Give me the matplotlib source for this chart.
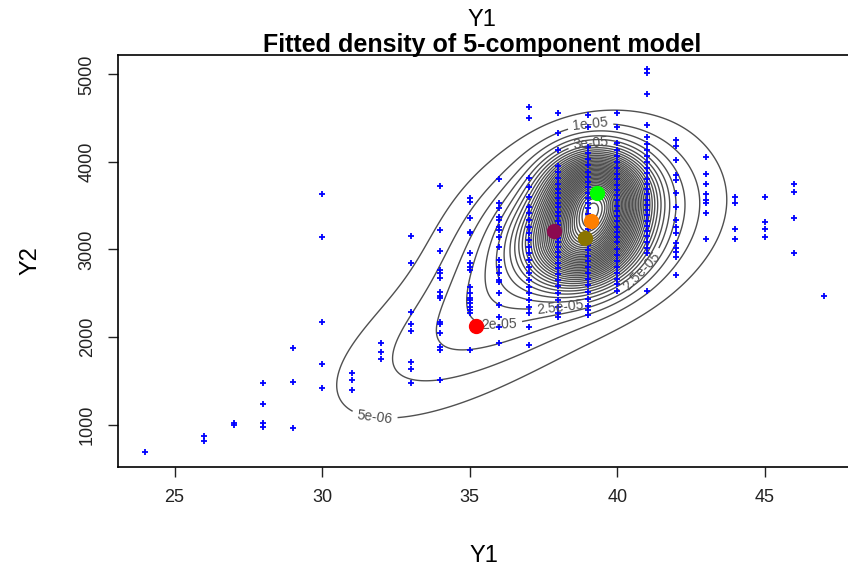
import numpy as np
import matplotlib
matplotlib.use("Agg")
import matplotlib.pyplot as plt

# observed points, grouped by Y1 value (Y1 is integer valued)
y1_vals = [24, 26, 27, 28, 29, 30, 31, 32, 33, 34, 35, 36, 37, 38, 39, 40,
           41, 42, 43, 44, 45, 46, 47]
y2_by_y1 = [
    [690],
    [870, 810],
    [1000, 1020],
    [1480, 1240, 1020, 977],
    [1869, 1491, 966],
    [3629, 3137, 2177, 1697, 1423],
    [1583, 1503, 1389],
    [1937, 1823, 1754],
    [3149, 2851, 2280, 2154, 2063, 1720, 1629, 1480],
    [3720, 3217, 2977, 2771, 2726, 2669, 2509, 2474, 2451, 2177, 2143, 2040,
     1880, 1846, 1514],
    [3583, 3537, 3354, 3194, 3183, 2954, 2851, 2794, 2760, 2566, 2497, 2451,
     2417, 2383, 2337, 2303, 2269, 1846],
    [3800, 3526, 3469, 3366, 3331, 3251, 3217, 3137, 3023, 2874, 2794, 2726,
     2646, 2623, 2497, 2360, 2223, 2109, 1937],
    [4623, 4497, 3811, 3709, 3594, 3480, 3411, 3331, 3251, 3183, 3103, 3023,
     2954, 2874, 2794, 2726, 2646, 2566, 2497, 2417, 2337, 2269, 2109, 1903],
    [4554, 4326, 4131, 3949, 3880, 3811, 3750, 3690, 3640, 3590, 3530, 3480,
     3430, 3380, 3330, 3280, 3230, 3180, 3130, 3080, 3030, 2970, 2910, 2850,
     2790, 2720, 2650, 2580, 2500, 2420, 2340, 2269, 2223],
    [4531, 4394, 4166, 4100, 4030, 3960, 3890, 3830, 3770, 3710, 3650, 3590,
     3530, 3470, 3410, 3350, 3290, 3230, 3170, 3110, 3050, 2990, 2930, 2870,
     2800, 2730, 2660, 2590, 2510, 2430, 2350, 2303, 2246],
    [4554, 4394, 4211, 4140, 4070, 4000, 3930, 3860, 3800, 3740, 3680, 3620,
     3560, 3500, 3440, 3380, 3320, 3260, 3200, 3140, 3080, 3010, 2940, 2870,
     2800, 2730, 2660, 2600, 2531],
    [5057, 5011, 4771, 4417, 4280, 4210, 4140, 4070, 4000, 3930, 3870, 3810,
     3750, 3690, 3630, 3570, 3510, 3450, 3390, 3330, 3270, 3210, 3150, 3090,
     3020, 2954, 2531],
    [4246, 4177, 4017, 3846, 3789, 3640, 3480, 3331, 3251, 3183, 3069, 3011,
     2966, 2909, 2703],
    [4051, 3857, 3743, 3629, 3560, 3526, 3411, 3114],
    [3594, 3526, 3229, 3114],
    [3594, 3309, 3229, 3137],
    [3743, 3651, 3354, 2954],
    [2474],
]

# fitted mixture: weights, means, sds and correlations of the 5 components
comp_w = [0.16, 0.13, 0.27, 0.22, 0.22]
comp_mx = [35.2, 37.85, 38.9, 39.1, 39.3]
comp_my = [2130, 3210, 3130, 3320, 3650]
comp_sx = [3.3, 2.2, 1.1, 2.5, 1.0]
comp_sy = [740, 650, 320, 620, 285]
comp_rho = [0.65, 0.5, 0.1, 0.2, 0.0]
comp_col = ["#ff0000", "#8b0a50", "#8b7500", "#ff7f00", "#00ff00"]

label_pos = [(31.8, 1150), (39.1, 4400), (36.0, 2154), (38.05, 2360),
             (39.1, 4230), (40.8, 2760)]

plt.rcParams["font.family"] = ["Liberation Sans", "DejaVu Sans"]

fig = plt.figure(figsize=(8.48, 5.72), dpi=100)
ax = fig.add_axes([0.139, 0.1836, 0.8645, 0.720])

# density on a grid
gx = np.linspace(23, 48, 360)
gy = np.linspace(500, 5300, 360)
X, Y = np.meshgrid(gx, gy)
Z = np.zeros_like(X)
for w, mx, my, sx, sy, r in zip(comp_w, comp_mx, comp_my, comp_sx, comp_sy, comp_rho):
    u = (X - mx) / sx
    v = (Y - my) / sy
    q = (u * u - 2 * r * u * v + v * v) / (1 - r * r)
    Z += w * np.exp(-q / 2) / (2 * np.pi * sx * sy * np.sqrt(1 - r * r))

levels = np.arange(5e-6, Z.max(), 5e-6)
cs = ax.contour(X, Y, Z, levels=levels, colors="#505050", linewidths=1.0)
ax.clabel(cs, inline=True, fontsize=10, fmt=lambda v: f"{v:g}", manual=label_pos,
          colors="#505050")

for xv, ys in zip(y1_vals, y2_by_y1):
    ax.plot([xv] * len(ys), ys, "+", color="#0000ff", ms=3.8, mew=1.3)

for mx, my, c in zip(comp_mx, comp_my, comp_col):
    ax.plot(mx, my, "o", color=c, ms=10, zorder=5)

ax.set_xlim(23.08, 47.92)
ax.set_ylim(515, 5220)
ax.set_xticks([25, 30, 35, 40, 45])
ax.set_yticks([1000, 2000, 3000, 4000, 5000])
for lab in ax.get_yticklabels():
    lab.set_rotation(90)
    lab.set_va("center")
ax.tick_params(length=7, width=1, labelsize=13, pad=9, colors="#222222")
for s in ax.spines.values():
    s.set_linewidth(1.2)

ax.set_xlabel("Y1", fontsize=17, labelpad=28)
ax.set_ylabel("Y2", fontsize=17, labelpad=27)
fig.text(0.5685, 0.965, "Y1", ha="center", va="center", fontsize=17)
fig.text(0.5685, 0.922, "Fitted density of 5-component model", ha="center",
         va="center", fontsize=18, fontweight="bold")

fig.savefig("out.png", dpi=100)
